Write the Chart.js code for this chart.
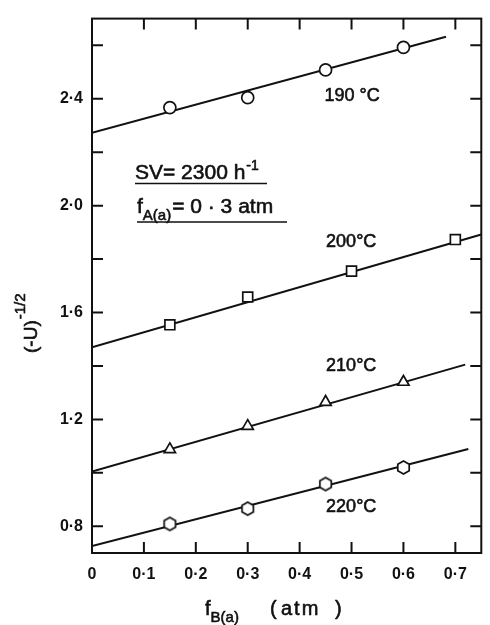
<!DOCTYPE html>
<html lang="en">
<head>
    <meta charset="UTF-8">
    <title>(-U)^-1/2 against fB(a)</title>
    <script src="https://cdn.jsdelivr.net/npm/chart.js"></script>
    <style>
        body {
            margin: 0;
            padding: 0;
            background: #fff;
        }
    </style>
</head>
<body>
    <canvas id="rate-chart" width="490" height="625"></canvas>

    <script>
        // partial pressure of B (atm) at the measured points
        const fB = [0.15, 0.3, 0.45, 0.6];
        const fB200 = [0.15, 0.3, 0.5, 0.7];

        // (-U)^-1/2 at each temperature
        const y190 = [2.367, 2.404, 2.508, 2.592];
        const y200 = [1.554, 1.658, 1.755, 1.873];
        const y210 = [1.088, 1.175, 1.265, 1.340];
        const y220 = [0.809, 0.866, 0.958, 1.020];

        // fitted straight lines, start and end points
        const fitX190 = [0, 0.682];
        const fitY190 = [2.273, 2.632];
        const fitX200 = [0, 0.75];
        const fitY200 = [1.470, 1.892];
        const fitX210 = [0, 0.719];
        const fitY210 = [1.005, 1.405];
        const fitX220 = [0, 0.725];
        const fitY220 = [0.726, 1.089];

        const tempLabels = ["190 °C", "200°C", "210°C", "220°C"];
        // where each temperature label sits (left edge, vertical centre), in data units
        const tempLabelX = [0.448, 0.451, 0.451, 0.451];
        const tempLabelY = [2.41, 1.865, 1.40, 0.871];

        const xTickValues = [0, 0.1, 0.2, 0.3, 0.4, 0.5, 0.6, 0.7];
        const xTickLabels = ["0", "0·1", "0·2", "0·3", "0·4", "0·5", "0·6", "0·7"];
        const yTickValues = [0.8, 1.0, 1.2, 1.4, 1.6, 1.8, 2.0, 2.2, 2.4, 2.6];
        const yTickLabels = ["0·8", "", "1·2", "", "1·6", "", "2·0", "", "2·4", ""];

        const ink = "#111";
        const FONT = "'Liberation Sans', Arial, sans-serif";

        const pts = (xs, ys) => xs.map((x, i) => ({ x: x, y: ys[i] }));

        // hexagon marker for the 220 °C points
        function hexMarker(r, lw) {
            const size = Math.ceil(2 * r + lw + 2);
            const c = document.createElement("canvas");
            c.width = size;
            c.height = size;
            const g = c.getContext("2d");
            g.translate(size / 2, size / 2);
            g.beginPath();
            for (let k = 0; k < 6; k++) {
                const a = -Math.PI / 2 + k * Math.PI / 3;
                g.lineTo(r * Math.cos(a), r * Math.sin(a));
            }
            g.closePath();
            g.fillStyle = "#fff";
            g.fill();
            g.lineWidth = lw;
            g.strokeStyle = ink;
            g.stroke();
            return c;
        }

        function fitLine(xs, ys) {
            return {
                data: pts(xs, ys),
                showLine: true,
                borderColor: ink,
                borderWidth: 2,
                pointRadius: 0,
                order: 2
            };
        }

        function markers(xs, ys, style, radius) {
            return {
                data: pts(xs, ys),
                showLine: false,
                pointStyle: style,
                pointRadius: radius,
                pointBorderWidth: 1.7,
                pointBorderColor: ink,
                pointBackgroundColor: "#fff",
                order: 1
            };
        }

        // filled text with a thin outline so it reads a little heavier
        function inkText(ctx, s, x, y) {
            ctx.fillText(s, x, y);
            ctx.strokeText(s, x, y);
            return ctx.measureText(s).width;
        }

        // frame, inward ticks and all the text around the plot
        const framePlugin = {
            id: "frame",
            afterDraw(chart) {
                const ctx = chart.ctx;
                const a = chart.chartArea;
                const xs = chart.scales.x;
                const ys = chart.scales.y;
                const tick = 11;
                ctx.save();
                ctx.strokeStyle = ink;
                ctx.fillStyle = ink;
                ctx.lineWidth = 2;
                ctx.strokeRect(a.left, a.top, a.right - a.left, a.bottom - a.top);

                ctx.beginPath();
                xTickValues.forEach(v => {
                    if (v === 0) return;
                    const px = xs.getPixelForValue(v);
                    ctx.moveTo(px, a.bottom);
                    ctx.lineTo(px, a.bottom - tick);
                    ctx.moveTo(px, a.top);
                    ctx.lineTo(px, a.top + tick);
                });
                yTickValues.forEach(v => {
                    const py = ys.getPixelForValue(v);
                    ctx.moveTo(a.left, py);
                    ctx.lineTo(a.left + tick, py);
                    ctx.moveTo(a.right, py);
                    ctx.lineTo(a.right - tick, py);
                });
                ctx.stroke();

                ctx.lineWidth = 0.6;
                ctx.lineJoin = "round";

                // temperature labels
                ctx.font = "18px " + FONT;
                ctx.textBaseline = "middle";
                ctx.textAlign = "left";
                tempLabels.forEach((t, i) => {
                    inkText(ctx, t, xs.getPixelForValue(tempLabelX[i]), ys.getPixelForValue(tempLabelY[i]));
                });

                // conditions box
                ctx.textBaseline = "alphabetic";
                ctx.font = "21px " + FONT;
                let w = inkText(ctx, "SV= 2300 h", 135, 179);
                ctx.font = "14px " + FONT;
                inkText(ctx, "-1", 135 + w + 1, 170);
                ctx.font = "21px " + FONT;
                w = inkText(ctx, "f", 137, 213);
                ctx.font = "15px " + FONT;
                const ws = inkText(ctx, "A(a)", 137 + w, 220);
                ctx.font = "21px " + FONT;
                inkText(ctx, "= 0 · 3 atm", 137 + w + ws + 1, 213);
                ctx.lineWidth = 1.6;
                ctx.beginPath();
                ctx.moveTo(135, 183.5);
                ctx.lineTo(267, 183.5);
                ctx.moveTo(137, 222);
                ctx.lineTo(287, 222);
                ctx.stroke();
                ctx.lineWidth = 0.6;

                // y axis title
                ctx.save();
                ctx.translate(37, 353);
                ctx.rotate(-Math.PI / 2);
                ctx.font = "19px " + FONT;
                w = inkText(ctx, "(-U)", 0, 0);
                ctx.font = "15px " + FONT;
                inkText(ctx, "-1/2", w + 1, -12);
                ctx.restore();

                // x axis title
                ctx.font = "20px " + FONT;
                w = inkText(ctx, "f", 205, 615);
                ctx.font = "15px " + FONT;
                inkText(ctx, "B(a)", 205 + w, 622);
                ctx.font = "20px " + FONT;
                inkText(ctx, "(", 270, 615);
                ctx.letterSpacing = "2px";
                inkText(ctx, "atm", 281, 615);
                ctx.letterSpacing = "0px";
                inkText(ctx, ")", 335, 615);
                ctx.restore();
            }
        };

        const tickFont = { family: FONT, size: 16, weight: "bold" };

        new Chart(document.getElementById("rate-chart"), {
            type: "scatter",
            data: {
                datasets: [
                    fitLine(fitX190, fitY190),
                    fitLine(fitX200, fitY200),
                    fitLine(fitX210, fitY210),
                    fitLine(fitX220, fitY220),
                    markers(fB, y190, "circle", 6),
                    markers(fB200, y200, "rect", 7),
                    markers(fB, y210, "triangle", 6.5),
                    markers(fB, y220, hexMarker(6.6, 1.7), 6.6)
                ]
            },
            options: {
                responsive: false,
                animation: false,
                layout: { padding: { top: 15, right: 1, left: 0, bottom: 0 } },
                plugins: {
                    legend: { display: false },
                    tooltip: { enabled: false }
                },
                scales: {
                    x: {
                        type: "linear",
                        min: 0,
                        max: 0.75,
                        afterBuildTicks: s => { s.ticks = xTickValues.map(v => ({ value: v })); },
                        afterFit: s => { s.height = 72; },
                        grid: { display: false, drawTicks: false },
                        border: { display: false },
                        ticks: {
                            callback: (v, i) => xTickLabels[i],
                            font: tickFont,
                            color: ink,
                            padding: 12,
                            maxRotation: 0,
                            autoSkip: false
                        }
                    },
                    y: {
                        type: "linear",
                        min: 0.7,
                        max: 2.7,
                        afterBuildTicks: s => { s.ticks = yTickValues.map(v => ({ value: v })); },
                        afterFit: s => { s.width = 92; },
                        grid: { display: false, drawTicks: false },
                        border: { display: false },
                        ticks: {
                            callback: (v, i) => yTickLabels[i],
                            font: tickFont,
                            color: ink,
                            padding: 9,
                            autoSkip: false
                        }
                    }
                }
            },
            plugins: [framePlugin]
        });
    </script>
</body>
</html>
